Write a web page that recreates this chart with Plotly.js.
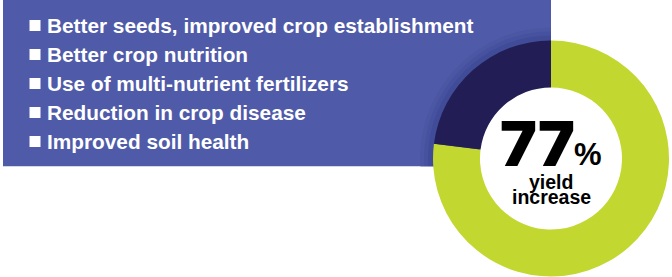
<!DOCTYPE html>
<html><head><meta charset="utf-8">
<script src="https://cdn.plot.ly/plotly-3.0.1.min.js"></script>
<style>html,body{margin:0;padding:0;background:#fff;}#chart{width:672px;height:277px;}</style>
</head><body><div id="chart"></div>
<script>
// Data
const items = [
  "Better seeds, improved crop establishment",
  "Better crop nutrition",
  "Use of multi-nutrient fertilizers",
  "Reduction in crop disease",
  "Improved soil health"
];
const sliceLabels = ["Yield increase", "Remainder"];
const sliceValues = [77, 23];
const centerValue = "77";
const centerUnit = "%";
const captionLines = ["yield", "increase"];

// Layout helpers (pixel -> paper)
const W = 672, H = 277;
const px = x => x / W, py = y => 1 - y / H;
const cx = 551, cy = 158.5, R = 118, Rin = 71;
const BLUE = "#4f5ba8", NAVY = "#221d55", LIME = "#c2d72f";

const shapes = [];
// blue panel
shapes.push({type:"rect", layer:"below", xref:"paper", yref:"paper", x0:px(3), x1:px(cx), y0:py(166.5), y1:py(0), fillcolor:BLUE, line:{width:0}});
// shadow rings
[[131,"#4b57a2"],[127,"#4652a0"],[123,"#414c98"]].forEach(([r,c])=>{
  shapes.push({type:"circle", layer:"below", xref:"paper", yref:"paper", x0:px(cx-r), x1:px(cx+r), y0:py(cy+r), y1:py(cy-r), fillcolor:c, line:{width:0}});
});
// white covers to clip rings to the panel
shapes.push({type:"rect", layer:"below", xref:"paper", yref:"paper", x0:px(cx), x1:px(W), y0:py(H), y1:py(0), fillcolor:"#fff", line:{width:0}});
shapes.push({type:"rect", layer:"below", xref:"paper", yref:"paper", x0:0, x1:px(cx), y0:0, y1:py(166.5), fillcolor:"#fff", line:{width:0}});
// white donut hole backdrop
shapes.push({type:"circle", layer:"below", xref:"paper", yref:"paper", x0:px(cx-Rin-1), x1:px(cx+Rin+1), y0:py(cy+Rin+1), y1:py(cy-Rin-1), fillcolor:"#fff", line:{width:0}});

const annotations = [];
const baseline0 = 33, step = 29;
items.forEach((t,i)=>{
  const b = baseline0 + i*step;
  shapes.push({type:"rect", xref:"paper", yref:"paper", x0:px(29.5), x1:px(40.5), y0:py(b-2), y1:py(b-13), fillcolor:"#fff", line:{width:0}});
  annotations.push({text:t, xref:"paper", yref:"paper", x:px(45), y:py(b-7.5), xanchor:"left", yanchor:"middle", showarrow:false,
    font:{family:"Liberation Sans, Arial, sans-serif", size:20.8, color:"#fff", weight:"bold"}});
});
annotations.push({text:centerValue, xref:"paper", yref:"paper", x:px(537), y:py(143), xanchor:"center", yanchor:"middle", showarrow:false,
  font:{family:"Inter, Liberation Sans, Arial", size:62, color:"#000", weight:900}});
annotations.push({text:centerUnit, xref:"paper", yref:"paper", x:px(588), y:py(154), xanchor:"center", yanchor:"middle", showarrow:false,
  font:{family:"Liberation Sans, Arial", size:31, color:"#000", weight:"bold"}});
captionLines.forEach((t,i)=>{
  annotations.push({text:t, xref:"paper", yref:"paper", x:px(551), y:py(182 + i*15), xanchor:"center", yanchor:"middle", showarrow:false,
    font:{family:"Liberation Sans, Arial", size:19.5, color:"#000", weight:"bold"}});
});

const trace = {
  type:"pie", labels:sliceLabels, values:sliceValues, hole:Rin/R, sort:false, direction:"clockwise", rotation:0,
  marker:{colors:[LIME, NAVY], line:{width:0}}, textinfo:"none", hoverinfo:"none", showlegend:false,
  domain:{x:[px(cx-R), px(cx+R)], y:[py(cy+R), py(cy-R)]}
};

Plotly.newPlot("chart", [trace], {
  width:W, height:H, margin:{l:0,r:0,t:0,b:0}, paper_bgcolor:"#fff", plot_bgcolor:"#fff",
  shapes:shapes, annotations:annotations, showlegend:false
}, {displayModeBar:false, staticPlot:true});
</script></body></html>
